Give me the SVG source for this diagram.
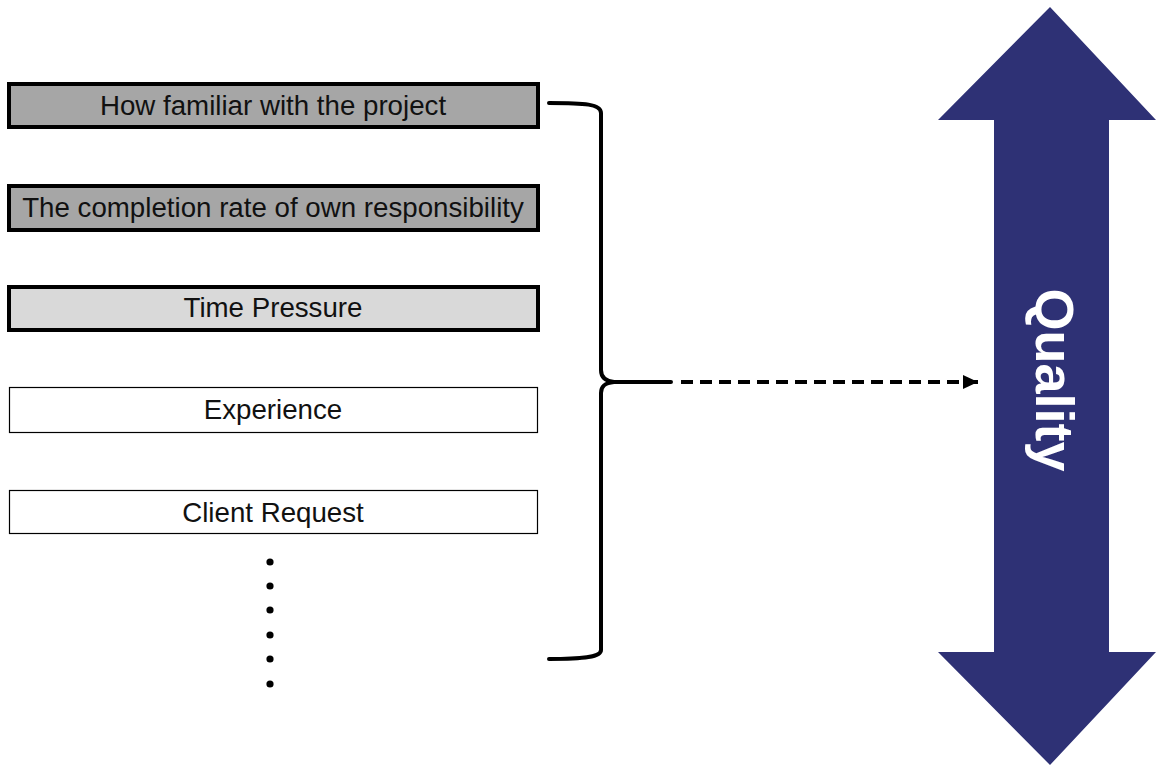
<svg xmlns="http://www.w3.org/2000/svg" width="1156" height="765" viewBox="0 0 1156 765">
  <style>
    .label { font-family: "Liberation Sans", Arial, sans-serif; font-size: 27.7px; fill: #111; text-anchor: middle; dominant-baseline: central; }
    .strong { stroke: #000; stroke-width: 4; }
    .thin { stroke: #000; stroke-width: 1.2; fill: #fff; }
    .dark { fill: #a6a6a6; }
    .light { fill: #d9d9d9; }
    .quality { font-family: "Liberation Sans", Arial, sans-serif; font-weight: bold; font-size: 54px; fill: #fff; text-anchor: middle; }
  </style>
  <defs>
    <marker id="arrowHead" viewBox="0 0 15 14" refX="15" refY="7" markerWidth="15" markerHeight="14" markerUnits="userSpaceOnUse" orient="auto">
      <path d="M0,0 L15,7 L0,14 Z" fill="#000"/>
    </marker>
  </defs>
  <rect width="1156" height="765" fill="#fff"/>

  <!-- factor boxes -->
  <g id="node-familiar">
    <rect class="strong dark" x="9" y="84" width="529" height="43"/>
    <text class="label" x="273" y="105">How familiar with the project</text>
  </g>
  <g id="node-completion">
    <rect class="strong dark" x="9" y="186" width="529" height="44"/>
    <text class="label" x="273" y="207">The completion rate of own responsibility</text>
  </g>
  <g id="node-time">
    <rect class="strong light" x="9" y="287" width="529" height="43"/>
    <text class="label" x="273" y="307">Time Pressure</text>
  </g>
  <g id="node-experience">
    <rect class="thin" x="9.5" y="387.5" width="528" height="45"/>
    <text class="label" x="273" y="409">Experience</text>
  </g>
  <g id="node-client">
    <rect class="thin" x="9.5" y="490.5" width="528" height="43"/>
    <text class="label" x="273" y="512">Client Request</text>
  </g>
  <g id="node-more">
    <circle cx="270" cy="562" r="3.6"/>
    <circle cx="270" cy="586" r="3.6"/>
    <circle cx="270" cy="610" r="3.6"/>
    <circle cx="270" cy="635" r="3.6"/>
    <circle cx="270" cy="659" r="3.6"/>
    <circle cx="270" cy="684" r="3.6"/>
  </g>

  <!-- quality double arrow -->
  <g id="node-quality">
    <path d="M1050,7 L1156,120 L1109,120 L1109,652 L1156,652 L1050,765 L938,652 L994,652 L994,120 L938,120 Z" fill="#2e3175"/>
    <text class="quality" transform="translate(1036,380) rotate(90)">Quality</text>
  </g>

  <!-- connectors -->
  <g id="connectors" fill="none" stroke="#000">
    <path stroke-width="4" stroke-linecap="round" d="M549,103 C585,103 601,104 601,113 L601,370 C601,377 605,381 614,382 L671,382 M614,382 C605,383 601,386 601,393 L601,650 C601,657 585,659 549,659"/>
    <path stroke-width="4" stroke-dasharray="12,7" d="M681,382 L978,382" marker-end="url(#arrowHead)"/>
  </g>
</svg>
